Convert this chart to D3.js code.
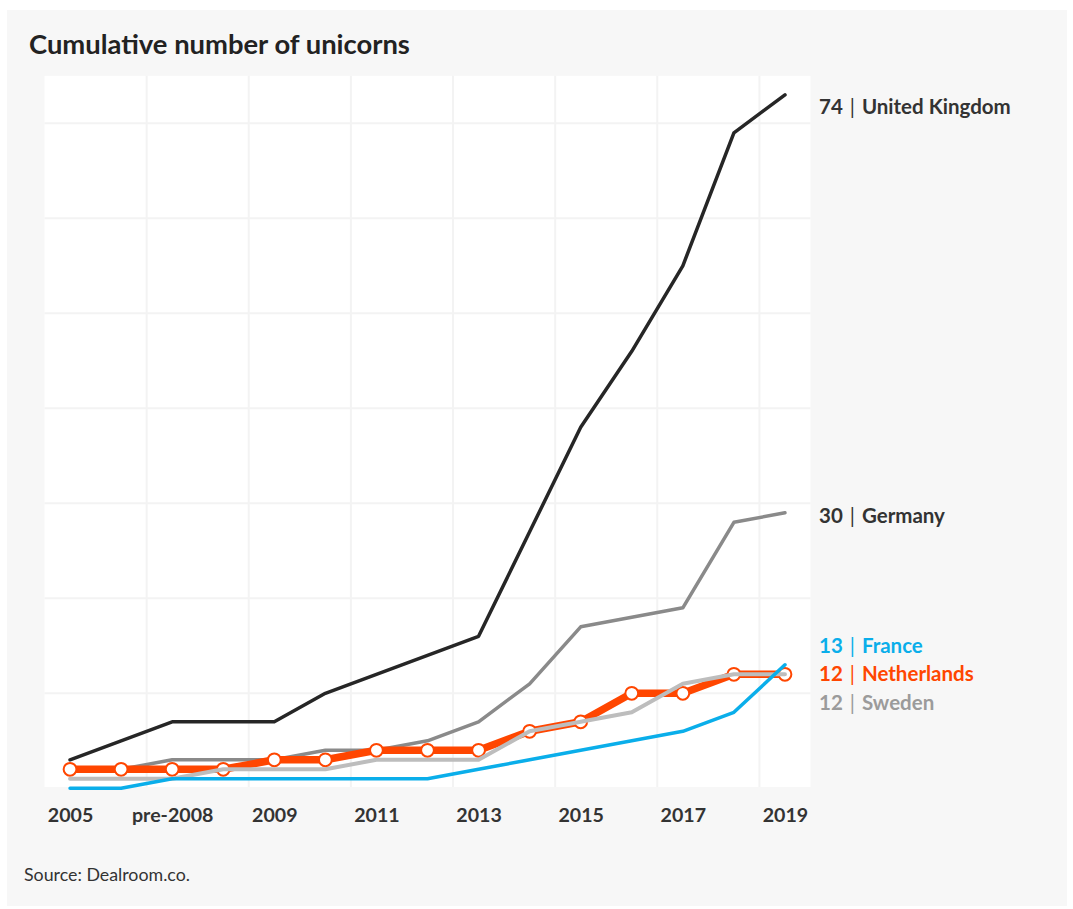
<!DOCTYPE html>
<html>
<head>
<meta charset="utf-8">
<script src="https://cdn.jsdelivr.net/npm/d3@7"></script>
<style>
  html, body { margin: 0; padding: 0; background: #ffffff; }
  svg { display: block; font-family: Lato, "Open Sans", sans-serif; }
</style>
</head>
<body>
<svg id="chart" width="1073" height="909"></svg>
<script>
// ---------------- data ----------------
const categories = ["2005","2006","pre-2008","2008","2009","2010","2011","2012","2013","2014","2015","2016","2017","2018","2019"];
const tickLabels = ["2005","pre-2008","2009","2011","2013","2015","2017","2019"];
const ukValues          = [3,5,7,7,7,10,12,14,16,27,38,46,55,69,73];
const germanyValues     = [2,2,3,3,3,4,4,5,7,11,17,18,19,28,29];
const netherlandsValues = [2,2,2,2,3,3,4,4,4,6,7,10,10,12,12];
const swedenValues      = [1,1,1,2,2,2,3,3,3,6,7,8,11,12,12];
const franceValues      = [0,0,1,1,1,1,1,1,2,3,4,5,6,8,13];
const seriesNames  = ["United Kingdom","Germany","Netherlands","Sweden","France"];
const labelTotals  = [74,30,12,12,13];
const yGridValues  = [10,20,30,40,50,60,70];
const titleText  = "Cumulative number of unicorns";
const sourceText = "Source: Dealroom.co.";

// ---------------- styles ----------------
const series = [
  {name: seriesNames[0], values: ukValues,          total: labelTotals[0], line: "#262626", label: "#333333", width: 3.5},
  {name: seriesNames[1], values: germanyValues,     total: labelTotals[1], line: "#8a8a8a", label: "#333333", width: 3.5},
  {name: seriesNames[2], values: netherlandsValues, total: labelTotals[2], line: "#ff4600", label: "#ff4600", width: 7.5, markers: true},
  {name: seriesNames[3], values: swedenValues,      total: labelTotals[3], line: "#bdbdbd", label: "#9b9b9b", width: 4},
  {name: seriesNames[4], values: franceValues,      total: labelTotals[4], line: "#0aaeea", label: "#0aaeea", width: 3.5}
];

const svg = d3.select("#chart");
const plot = {left: 44.5, right: 810.5, top: 75.8, bottom: 788.3};

// fit a text element to a target width by adjusting its font size
function fitWidth(sel, target) {
  const node = sel.node();
  const fs = parseFloat(sel.attr("font-size"));
  const w = node.getComputedTextLength();
  if (w > 0) sel.attr("font-size", (fs * target / w).toFixed(2));
}

// panel background
svg.append("rect").attr("x", 7).attr("y", 10).attr("width", 1060).attr("height", 896).attr("fill", "#f7f7f7");

// title
const title = svg.append("text").attr("x", 29).attr("y", 54).attr("font-size", 24).attr("font-weight", 700)
  .attr("fill", "#222").text(titleText);
fitWidth(title, 381);

const x = d3.scalePoint().domain(categories).range([plot.left, plot.right]).padding(0.5);
const y = d3.scaleLinear().domain([0, 75]).range([plot.bottom, plot.top]);

// plot background
svg.append("rect").attr("x", plot.left).attr("y", plot.top)
  .attr("width", plot.right - plot.left).attr("height", 787 - plot.top).attr("fill", "#ffffff");

// grid
const grid = svg.append("g").attr("stroke", "#f3f3f3").attr("stroke-width", 2);
grid.selectAll("line.h").data(yGridValues).join("line")
  .attr("x1", plot.left).attr("x2", plot.right)
  .attr("y1", d => y(d)).attr("y2", d => y(d));
const vGrid = categories.filter((c, i) => i % 2 === 1);
grid.selectAll("line.v").data(vGrid).join("line")
  .attr("x1", d => x(d) + x.step() / 2).attr("x2", d => x(d) + x.step() / 2)
  .attr("y1", plot.top).attr("y2", 787);

// x axis
const xAxis = svg.append("g").attr("transform", `translate(0,${plot.bottom + 20})`)
  .call(d3.axisBottom(x).tickValues(tickLabels).tickSize(0).tickPadding(0));
xAxis.select(".domain").remove();
xAxis.selectAll("text").attr("font-size", 19.6).attr("font-weight", 700).attr("fill", "#333")
  .attr("font-family", "Lato, 'Open Sans', sans-serif").attr("dy", "0.71em");

// lines
const line = d3.line().x((d, i) => x(categories[i])).y(d => y(d));
series.forEach(s => {
  svg.append("path").datum(s.values).attr("d", line).attr("fill", "none")
    .attr("stroke", s.line).attr("stroke-width", s.width)
    .attr("stroke-linejoin", "round").attr("stroke-linecap", "round");
  if (s.markers) {
    svg.append("g").selectAll("circle").data(s.values).join("circle")
      .attr("cx", (d, i) => x(categories[i])).attr("cy", d => y(d)).attr("r", 6.4)
      .attr("fill", "#fff").attr("stroke", s.line).attr("stroke-width", 2);
  }
});

// end labels with simple dodge (min gap, kept below the plot top)
const gap = 28.5;
const minPos = plot.top + gap;
const labels = series.map(s => ({s, target: Math.max(minPos, y(s.values[s.values.length - 1]))}));
labels.sort((a, b) => a.target - b.target);
let groups = labels.map(l => ({items: [l], center: l.target}));
let changed = true;
while (changed) {
  changed = false;
  for (let i = 0; i < groups.length - 1; i++) {
    const a = groups[i], b = groups[i + 1];
    const aBottom = a.center + (a.items.length - 1) * gap / 2;
    const bTop = b.center - (b.items.length - 1) * gap / 2;
    if (bTop - aBottom < gap) {
      const items = a.items.concat(b.items);
      const center = d3.mean(items, d => d.target);
      groups.splice(i, 2, {items, center});
      changed = true;
      break;
    }
  }
}
groups.forEach(g => g.items.forEach((l, j) => { l.pos = g.center + (j - (g.items.length - 1) / 2) * gap; }));

labels.forEach(l => {
  const t = svg.append("text").attr("x", 819).attr("y", l.pos + 10)
    .attr("font-size", 20.5).attr("fill", l.s.label);
  t.append("tspan").attr("font-weight", 700).text(l.s.total);
  t.append("tspan").attr("font-weight", 400).attr("dx", 7).text("|");
  t.append("tspan").attr("font-weight", 700).attr("dx", 7).text(l.s.name);
});

// source
const src = svg.append("text").attr("x", 24).attr("y", 881).attr("font-size", 16.5).attr("fill", "#333").text(sourceText);
fitWidth(src, 166);
</script>
</body>
</html>
